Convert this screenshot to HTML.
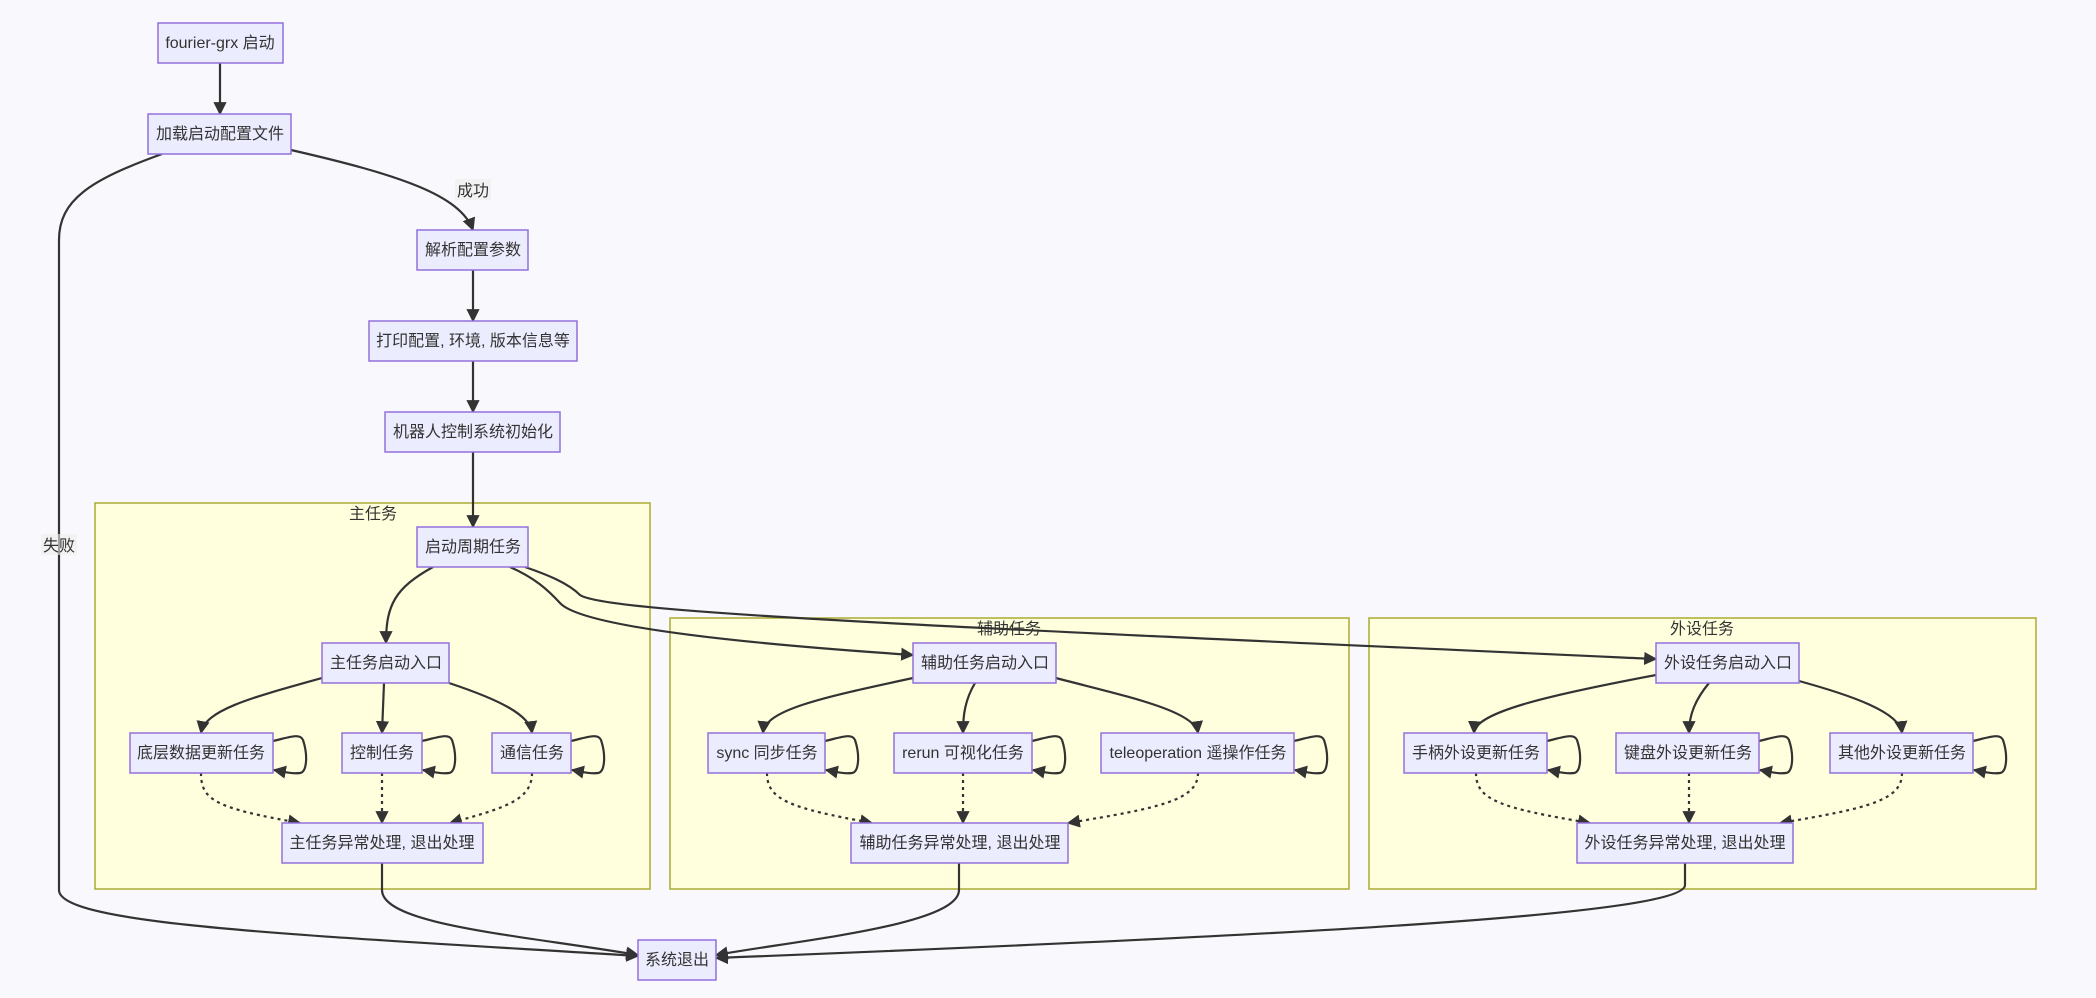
<!DOCTYPE html>
<html><head><meta charset="utf-8"><style>
html,body{margin:0;padding:0;background:#f9f9fd;}
svg{display:block;}
text{font-family:"Liberation Sans","Noto Sans CJK SC",sans-serif;font-size:16px;fill:#333;}
.n{fill:#ececff;stroke:#9370db;stroke-width:1.5;}
.c{fill:#ffffde;stroke:#aaaa33;stroke-width:1.5;}
.e{fill:none;stroke:#333;stroke-width:2.2;}
.d{fill:none;stroke:#333;stroke-width:2.2;stroke-dasharray:3 4;}
</style></head><body>
<svg width="2096" height="998" viewBox="0 0 2096 998" xmlns="http://www.w3.org/2000/svg">
<defs><marker id="a" viewBox="0 0 10 10" refX="9" refY="5" markerWidth="6" markerHeight="6" orient="auto" markerUnits="strokeWidth"><path d="M0,0 L10,5 L0,10 z" fill="#333"/></marker></defs>
<rect class="c" x="95" y="503" width="555" height="386"/>
<rect class="c" x="670" y="618" width="679" height="271"/>
<rect class="c" x="1369" y="618" width="667" height="271"/>
<text x="373" y="519" text-anchor="middle">主任务</text>
<text x="1009" y="634" text-anchor="middle">辅助任务</text>
<text x="1702" y="634" text-anchor="middle">外设任务</text>
<g marker-end="url(#a)">
<path class="e" d="M220,63 L220,114"/>
<path class="e" d="M291,150 C400,175 460,195 473,230"/>
<path class="e" d="M162,154 C90,180 59,200 59,240 L59,890 C59,925 300,935 638,956"/>
<path class="e" d="M473,270 L473,321"/>
<path class="e" d="M473,361 L473,412"/>
<path class="e" d="M473,452 L473,527"/>
<path class="e" d="M433,567 C395,588 386,605 386,643"/>
<path class="e" d="M510,567 C535,578 548,590 560,603 C580,625 720,642 913,655"/>
<path class="e" d="M525,567 C548,575 568,583 580,595 C605,612 900,625 1656,659"/>
<path class="e" d="M322,678 C250,698 205,710 201,733"/>
<path class="e" d="M384,683 L382,733"/>
<path class="e" d="M449,683 C500,700 530,715 532,733"/>
<path class="e" d="M913,678 C820,698 765,710 763,733"/>
<path class="e" d="M975,683 C965,700 963,715 963,733"/>
<path class="e" d="M1056,678 C1120,695 1195,710 1198,733"/>
<path class="e" d="M1656,675 C1550,695 1475,712 1474,733"/>
<path class="e" d="M1709,683 C1695,700 1689,715 1689,733"/>
<path class="e" d="M1799,681 C1850,695 1900,712 1902,733"/>
<path class="d" d="M201,773 C201,800 215,808 300,823"/>
<path class="d" d="M382,773 L382,823"/>
<path class="d" d="M532,773 C532,800 505,808 450,823"/>
<path class="d" d="M767,773 C767,800 790,808 872,823"/>
<path class="d" d="M963,773 L963,823"/>
<path class="d" d="M1198,773 C1198,800 1160,808 1068,823"/>
<path class="d" d="M1476,773 C1476,800 1500,808 1590,823"/>
<path class="d" d="M1689,773 L1689,823"/>
<path class="d" d="M1902,773 C1902,800 1870,808 1780,823"/>
<path class="e" d="M382,863 L382,890 C382,925 520,935 638,955"/>
<path class="e" d="M959,863 L959,890 C959,925 800,940 716,955"/>
<path class="e" d="M1685,863 L1685,885 C1685,915 1300,935 716,958"/>
<path class="e" d="M273,741 C290,737 300,733 303,740 C308,755 307,772 300,773 C292,774 285,772 274,770"/>
<path class="e" d="M422,741 C439,737 449,733 452,740 C457,755 456,772 449,773 C441,774 434,772 423,770"/>
<path class="e" d="M571,741 C588,737 598,733 601,740 C606,755 605,772 598,773 C590,774 583,772 572,770"/>
<path class="e" d="M825,741 C842,737 852,733 855,740 C860,755 859,772 852,773 C844,774 837,772 826,770"/>
<path class="e" d="M1032,741 C1049,737 1059,733 1062,740 C1067,755 1066,772 1059,773 C1051,774 1044,772 1033,770"/>
<path class="e" d="M1294,741 C1311,737 1321,733 1324,740 C1329,755 1328,772 1321,773 C1313,774 1306,772 1295,770"/>
<path class="e" d="M1547,741 C1564,737 1574,733 1577,740 C1582,755 1581,772 1574,773 C1566,774 1559,772 1548,770"/>
<path class="e" d="M1759,741 C1776,737 1786,733 1789,740 C1794,755 1793,772 1786,773 C1778,774 1771,772 1760,770"/>
<path class="e" d="M1973,741 C1990,737 2000,733 2003,740 C2008,755 2007,772 2000,773 C1992,774 1985,772 1974,770"/>
</g>
<rect x="455" y="179" width="36" height="21" fill="#ececec" opacity="0.6"/><text x="473" y="196" text-anchor="middle">成功</text>
<rect x="41" y="534" width="36" height="21" fill="#ececec" opacity="0.6"/><text x="59" y="551" text-anchor="middle">失败</text>
<g>
<rect class="n" x="158" y="23" width="125" height="40"/><text x="220" y="48" text-anchor="middle">fourier-grx 启动</text>
<rect class="n" x="148" y="114" width="143" height="40"/><text x="220" y="139" text-anchor="middle">加载启动配置文件</text>
<rect class="n" x="417" y="230" width="111" height="40"/><text x="473" y="255" text-anchor="middle">解析配置参数</text>
<rect class="n" x="369" y="321" width="208" height="40"/><text x="473" y="346" text-anchor="middle">打印配置, 环境, 版本信息等</text>
<rect class="n" x="385" y="412" width="175" height="40"/><text x="473" y="437" text-anchor="middle">机器人控制系统初始化</text>
<rect class="n" x="417" y="527" width="111" height="40"/><text x="473" y="552" text-anchor="middle">启动周期任务</text>
<rect class="n" x="322" y="643" width="127" height="40"/><text x="386" y="668" text-anchor="middle">主任务启动入口</text>
<rect class="n" x="130" y="733" width="143" height="40"/><text x="201" y="758" text-anchor="middle">底层数据更新任务</text>
<rect class="n" x="342" y="733" width="80" height="40"/><text x="382" y="758" text-anchor="middle">控制任务</text>
<rect class="n" x="492" y="733" width="79" height="40"/><text x="532" y="758" text-anchor="middle">通信任务</text>
<rect class="n" x="282" y="823" width="201" height="40"/><text x="382" y="848" text-anchor="middle">主任务异常处理, 退出处理</text>
<rect class="n" x="913" y="643" width="143" height="40"/><text x="985" y="668" text-anchor="middle">辅助任务启动入口</text>
<rect class="n" x="708" y="733" width="117" height="40"/><text x="767" y="758" text-anchor="middle">sync 同步任务</text>
<rect class="n" x="894" y="733" width="138" height="40"/><text x="963" y="758" text-anchor="middle">rerun 可视化任务</text>
<rect class="n" x="1101" y="733" width="193" height="40"/><text x="1198" y="758" text-anchor="middle">teleoperation 遥操作任务</text>
<rect class="n" x="851" y="823" width="217" height="40"/><text x="960" y="848" text-anchor="middle">辅助任务异常处理, 退出处理</text>
<rect class="n" x="1656" y="643" width="143" height="40"/><text x="1728" y="668" text-anchor="middle">外设任务启动入口</text>
<rect class="n" x="1404" y="733" width="143" height="40"/><text x="1476" y="758" text-anchor="middle">手柄外设更新任务</text>
<rect class="n" x="1616" y="733" width="143" height="40"/><text x="1688" y="758" text-anchor="middle">键盘外设更新任务</text>
<rect class="n" x="1830" y="733" width="143" height="40"/><text x="1902" y="758" text-anchor="middle">其他外设更新任务</text>
<rect class="n" x="1577" y="823" width="216" height="40"/><text x="1685" y="848" text-anchor="middle">外设任务异常处理, 退出处理</text>
<rect class="n" x="638" y="940" width="78" height="40"/><text x="677" y="965" text-anchor="middle">系统退出</text>
</g>
</svg>
</body></html>
